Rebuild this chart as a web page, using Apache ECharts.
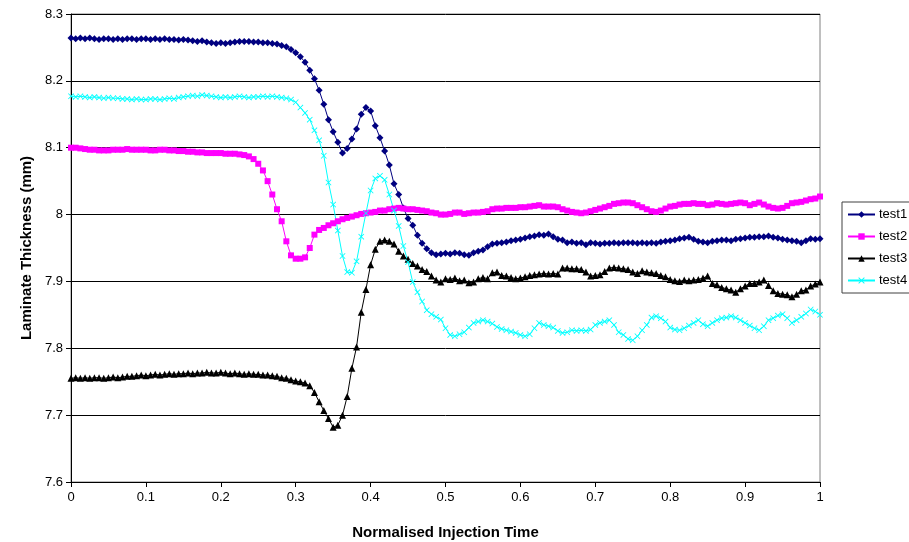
<!DOCTYPE html>
<html>
<head>
<meta charset="utf-8">
<script src="https://cdn.jsdelivr.net/npm/echarts@6/dist/echarts.min.js"></script>
<style>
  html, body { margin: 0; padding: 0; background: #fff; }
  #ch1 { width: 909px; height: 542px; }
</style>
</head>
<body>
<div id="ch1"></div>
<script>
// samples are taken at i/160 of the normalised injection time
var nSteps = 160;

var test1 = [
  8.264, 8.263, 8.264, 8.263, 8.264, 8.263, 8.262, 8.263, 8.263, 8.262,
  8.263, 8.262, 8.263, 8.263, 8.262, 8.263, 8.263, 8.262, 8.263, 8.262,
  8.263, 8.262, 8.262, 8.261, 8.262, 8.261, 8.260, 8.259, 8.260, 8.258,
  8.257, 8.256, 8.257, 8.256, 8.257, 8.258, 8.259, 8.259, 8.259, 8.258,
  8.258, 8.257, 8.257, 8.256, 8.255, 8.253, 8.251, 8.247, 8.242, 8.236,
  8.228, 8.216, 8.203, 8.186, 8.165, 8.142, 8.124, 8.108, 8.092, 8.099,
  8.113, 8.128, 8.150, 8.160, 8.155, 8.133, 8.115, 8.095, 8.074, 8.046,
  8.030, 8.010, 7.994, 7.984, 7.969, 7.957, 7.949, 7.943, 7.940, 7.941,
  7.942, 7.941, 7.943, 7.942, 7.940, 7.939, 7.943, 7.945, 7.947, 7.952,
  7.956, 7.957, 7.958, 7.959, 7.961, 7.962, 7.963, 7.965, 7.967, 7.968,
  7.970, 7.969, 7.971, 7.967, 7.963, 7.962, 7.958, 7.959, 7.957, 7.958,
  7.955, 7.958, 7.957, 7.956, 7.957, 7.957, 7.958, 7.957, 7.958, 7.958,
  7.958, 7.957, 7.958, 7.957, 7.958, 7.957, 7.959, 7.960, 7.961, 7.962,
  7.964, 7.965, 7.966, 7.963, 7.960, 7.959, 7.958, 7.960, 7.961, 7.962,
  7.962, 7.961, 7.963, 7.964, 7.965, 7.966, 7.966, 7.967, 7.967, 7.968,
  7.966, 7.965, 7.963, 7.962, 7.961, 7.960, 7.958, 7.961, 7.964, 7.963,
  7.964
];

var test2 = [
  8.100, 8.100, 8.099, 8.098, 8.097, 8.097, 8.096, 8.096, 8.096, 8.097,
  8.097, 8.097, 8.098, 8.097, 8.097, 8.097, 8.097, 8.096, 8.096, 8.097,
  8.097, 8.096, 8.096, 8.095, 8.095, 8.094, 8.094, 8.093, 8.093, 8.092,
  8.092, 8.092, 8.092, 8.091, 8.091, 8.091, 8.090, 8.089, 8.087, 8.083,
  8.076, 8.066, 8.050, 8.030, 8.008, 7.990, 7.960, 7.939, 7.934, 7.934,
  7.936, 7.950, 7.970, 7.977, 7.980, 7.984, 7.987, 7.990, 7.993, 7.995,
  7.997, 7.999, 8.001, 8.002, 8.003, 8.004, 8.006, 8.006, 8.008, 8.009,
  8.010, 8.009, 8.008, 8.008, 8.007, 8.006, 8.005, 8.003, 8.002, 8.000,
  8.000, 8.001, 8.003, 8.003, 8.001, 8.002, 8.003, 8.003, 8.004, 8.005,
  8.008, 8.009, 8.009, 8.010, 8.010, 8.010, 8.011, 8.011, 8.012, 8.013,
  8.014, 8.012, 8.012, 8.012, 8.011, 8.008, 8.006, 8.004, 8.003, 8.002,
  8.003, 8.005, 8.007, 8.009, 8.011, 8.013, 8.016, 8.017, 8.018, 8.018,
  8.017, 8.014, 8.011, 8.008, 8.005, 8.004, 8.006, 8.009, 8.012, 8.013,
  8.015, 8.016, 8.016, 8.017, 8.016, 8.016, 8.014, 8.015, 8.017, 8.016,
  8.015, 8.016, 8.017, 8.018, 8.017, 8.014, 8.016, 8.018, 8.015, 8.012,
  8.010, 8.009, 8.010, 8.013, 8.017, 8.018, 8.019, 8.021, 8.023, 8.024,
  8.027
];

var test3 = [
  7.755, 7.756, 7.755, 7.756, 7.755, 7.756, 7.756, 7.755, 7.756, 7.757,
  7.756, 7.757, 7.758, 7.758, 7.759, 7.760, 7.759, 7.760, 7.761, 7.760,
  7.761, 7.762, 7.761, 7.762, 7.762, 7.763, 7.762, 7.763, 7.763, 7.764,
  7.763, 7.763, 7.764, 7.763, 7.762, 7.763, 7.762, 7.761, 7.762, 7.761,
  7.761, 7.760, 7.760, 7.759, 7.758, 7.756, 7.755, 7.753, 7.751, 7.750,
  7.748, 7.744, 7.734, 7.720, 7.707, 7.695, 7.682, 7.685, 7.700, 7.728,
  7.770, 7.802, 7.854, 7.888, 7.925, 7.948, 7.960, 7.962, 7.960, 7.956,
  7.945, 7.938, 7.933, 7.927, 7.923, 7.918, 7.915, 7.908, 7.902, 7.899,
  7.904, 7.903, 7.905, 7.901, 7.902, 7.898, 7.899, 7.904, 7.906, 7.904,
  7.913, 7.914, 7.909, 7.908, 7.906, 7.904, 7.905, 7.907, 7.909, 7.910,
  7.911, 7.912, 7.911, 7.912, 7.911, 7.920, 7.920, 7.919, 7.919, 7.918,
  7.914, 7.908, 7.909, 7.910, 7.915, 7.920, 7.921, 7.920, 7.919, 7.918,
  7.914, 7.912, 7.916, 7.914, 7.913, 7.912, 7.909, 7.907, 7.903, 7.901,
  7.900, 7.902, 7.901, 7.902, 7.903, 7.905, 7.908, 7.897, 7.895, 7.891,
  7.889, 7.887, 7.884, 7.889, 7.893, 7.897, 7.897, 7.899, 7.902, 7.894,
  7.886, 7.882, 7.881, 7.880, 7.877, 7.881, 7.886, 7.887, 7.893, 7.896,
  7.899
];

var test4 = [
  8.177, 8.176, 8.177, 8.176, 8.175, 8.176, 8.175, 8.174, 8.175, 8.174,
  8.174, 8.173, 8.173, 8.172, 8.173, 8.172, 8.172, 8.173, 8.173, 8.172,
  8.173, 8.174, 8.173, 8.175, 8.176, 8.177, 8.178, 8.177, 8.179, 8.178,
  8.177, 8.176, 8.175, 8.176, 8.175, 8.176, 8.177, 8.176, 8.175, 8.176,
  8.176, 8.177, 8.176, 8.177, 8.176, 8.175, 8.174, 8.172, 8.168, 8.160,
  8.152, 8.142, 8.126, 8.111, 8.088, 8.048, 8.015, 7.976, 7.938, 7.914,
  7.913, 7.930, 7.967, 8.002, 8.036, 8.054, 8.058, 8.052, 8.030, 8.006,
  7.983, 7.953, 7.929, 7.899, 7.884, 7.870, 7.857, 7.851, 7.847, 7.843,
  7.830, 7.820, 7.818, 7.821, 7.824, 7.831, 7.838, 7.840, 7.842, 7.840,
  7.837, 7.832, 7.829, 7.827, 7.825, 7.823, 7.820, 7.818, 7.821, 7.830,
  7.838, 7.835, 7.833, 7.831, 7.826, 7.823, 7.824, 7.827, 7.826, 7.827,
  7.826, 7.828, 7.835, 7.838, 7.840, 7.842, 7.835, 7.824, 7.820, 7.814,
  7.812, 7.818, 7.827, 7.835, 7.846, 7.848, 7.845, 7.840, 7.831, 7.828,
  7.827, 7.830, 7.834, 7.838, 7.842, 7.836, 7.833, 7.838, 7.842, 7.845,
  7.846, 7.848, 7.846, 7.842, 7.838, 7.834, 7.830, 7.827, 7.833, 7.842,
  7.845, 7.849, 7.851, 7.845, 7.838, 7.842, 7.847, 7.852, 7.858, 7.855,
  7.850
];

var seriesNames = ['test1', 'test2', 'test3', 'test4'];
var seriesColors = ['#000080', '#FF00FF', '#000000', '#00FFFF'];

// filled "x" marker like the excel cross
var crossPath = 'path://M0,1L1,0L5,4L9,0L10,1L6,5L10,9L9,10L5,6L1,10L0,9L4,5Z';

function pairs(arr) {
  var out = [];
  for (var i = 0; i < arr.length; i++) {
    out.push([i / nSteps, arr[i]]);
  }
  return out;
}

function makeSeries(name, data, color, symbol, size) {
  return {
    name: name,
    type: 'line',
    data: pairs(data),
    symbol: symbol,
    symbolSize: size,
    showAllSymbol: true,
    animation: false,
    lineStyle: { color: color, width: 1 },
    itemStyle: { color: color, borderWidth: 0 },
    emphasis: { disabled: true }
  };
}

window.onload = function() {
  var ch1 = echarts.init(document.getElementById('ch1'));

  var op1 = {
    animation: false,
    textStyle: { fontFamily: 'Liberation Sans, Arial, sans-serif' },
    grid: {
      left: 71,
      right: 89,
      top: 14,
      bottom: 60,
      outerBoundsMode: 'none',
      show: true,
      borderColor: '#808080',
      borderWidth: 1
    },
    legend: {
      orient: 'vertical',
      left: 842,
      top: 202,
      padding: [6, 8, 6, 5],
      itemGap: 9,
      itemWidth: 27,
      itemHeight: 8,
      borderColor: '#404040',
      borderWidth: 1,
      textStyle: { fontSize: 13, lineHeight: 13, color: '#000', padding: [0, 0, 0, -1] },
      data: seriesNames
    },
    xAxis: {
      type: 'value',
      min: 0,
      max: 1,
      interval: 0.1,
      name: 'Normalised Injection Time',
      nameLocation: 'middle',
      nameGap: 43,
      nameTextStyle: { fontSize: 15, fontWeight: 'bold', color: '#000' },
      axisLine: { lineStyle: { color: '#000', width: 1 } },
      axisTick: { show: true, length: 5, lineStyle: { color: '#000' } },
      axisLabel: { fontSize: 13, color: '#000', margin: 9 },
      splitLine: { show: false }
    },
    yAxis: {
      type: 'value',
      min: 7.6,
      max: 8.3,
      interval: 0.1,
      name: 'Laminate Thickness (mm)',
      nameLocation: 'middle',
      nameGap: 37,
      nameTextStyle: { fontSize: 15, fontWeight: 'bold', color: '#000' },
      axisLine: { show: true, lineStyle: { color: '#000', width: 1 } },
      axisTick: { show: true, length: 5, lineStyle: { color: '#000' } },
      axisLabel: { fontSize: 13, color: '#000', margin: 8 },
      splitLine: { show: true, lineStyle: { color: '#000', width: 1 } }
    },
    series: [
      makeSeries(seriesNames[0], test1, seriesColors[0], 'diamond', 7),
      makeSeries(seriesNames[1], test2, seriesColors[1], 'rect', 6),
      makeSeries(seriesNames[2], test3, seriesColors[2], 'triangle', 7),
      makeSeries(seriesNames[3], test4, seriesColors[3], crossPath, 6)
    ]
  };

  ch1.setOption(op1);
};
</script>
</body>
</html>
